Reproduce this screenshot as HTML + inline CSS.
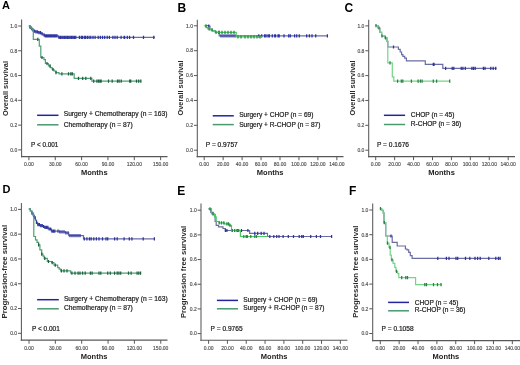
<!DOCTYPE html>
<html><head><meta charset="utf-8"><style>
html,body{margin:0;padding:0;background:#fff;}
svg{display:block;filter:blur(0.35px);}
text{font-family:"Liberation Sans", sans-serif;}
</style></head><body>
<svg width="520" height="365" viewBox="0 0 520 365">
<rect width="520" height="365" fill="#fff"/>
<line x1="21.6" y1="19.6" x2="21.6" y2="157.2" stroke="#585858" stroke-width="1.05"/>
<line x1="21.0" y1="156.6" x2="167.5" y2="156.6" stroke="#585858" stroke-width="1.05"/>
<line x1="18.200000000000003" y1="149.90" x2="21.6" y2="149.90" stroke="#585858" stroke-width="1"/>
<text x="17.30" y="151.70" font-size="5" text-anchor="end" font-weight="normal" fill="#505050" stroke="#505050" stroke-width="0.15" >0.0</text>
<line x1="18.200000000000003" y1="125.12" x2="21.6" y2="125.12" stroke="#585858" stroke-width="1"/>
<text x="17.30" y="126.92" font-size="5" text-anchor="end" font-weight="normal" fill="#505050" stroke="#505050" stroke-width="0.15" >0.2</text>
<line x1="18.200000000000003" y1="100.34" x2="21.6" y2="100.34" stroke="#585858" stroke-width="1"/>
<text x="17.30" y="102.14" font-size="5" text-anchor="end" font-weight="normal" fill="#505050" stroke="#505050" stroke-width="0.15" >0.4</text>
<line x1="18.200000000000003" y1="75.56" x2="21.6" y2="75.56" stroke="#585858" stroke-width="1"/>
<text x="17.30" y="77.36" font-size="5" text-anchor="end" font-weight="normal" fill="#505050" stroke="#505050" stroke-width="0.15" >0.6</text>
<line x1="18.200000000000003" y1="50.78" x2="21.6" y2="50.78" stroke="#585858" stroke-width="1"/>
<text x="17.30" y="52.58" font-size="5" text-anchor="end" font-weight="normal" fill="#505050" stroke="#505050" stroke-width="0.15" >0.8</text>
<line x1="18.200000000000003" y1="26.00" x2="21.6" y2="26.00" stroke="#585858" stroke-width="1"/>
<text x="17.30" y="27.80" font-size="5" text-anchor="end" font-weight="normal" fill="#505050" stroke="#505050" stroke-width="0.15" >1.0</text>
<line x1="28.90" y1="156.6" x2="28.90" y2="160.2" stroke="#585858" stroke-width="1"/>
<text x="28.90" y="166.00" font-size="5" text-anchor="middle" font-weight="normal" fill="#505050" stroke="#505050" stroke-width="0.15" >0.00</text>
<line x1="55.25" y1="156.6" x2="55.25" y2="160.2" stroke="#585858" stroke-width="1"/>
<text x="55.25" y="166.00" font-size="5" text-anchor="middle" font-weight="normal" fill="#505050" stroke="#505050" stroke-width="0.15" >30.00</text>
<line x1="81.60" y1="156.6" x2="81.60" y2="160.2" stroke="#585858" stroke-width="1"/>
<text x="81.60" y="166.00" font-size="5" text-anchor="middle" font-weight="normal" fill="#505050" stroke="#505050" stroke-width="0.15" >60.00</text>
<line x1="107.95" y1="156.6" x2="107.95" y2="160.2" stroke="#585858" stroke-width="1"/>
<text x="107.95" y="166.00" font-size="5" text-anchor="middle" font-weight="normal" fill="#505050" stroke="#505050" stroke-width="0.15" >90.00</text>
<line x1="134.30" y1="156.6" x2="134.30" y2="160.2" stroke="#585858" stroke-width="1"/>
<text x="134.30" y="166.00" font-size="5" text-anchor="middle" font-weight="normal" fill="#505050" stroke="#505050" stroke-width="0.15" >120.00</text>
<line x1="160.65" y1="156.6" x2="160.65" y2="160.2" stroke="#585858" stroke-width="1"/>
<text x="160.65" y="166.00" font-size="5" text-anchor="middle" font-weight="normal" fill="#505050" stroke="#505050" stroke-width="0.15" >150.00</text>
<text x="94.30" y="175.20" font-size="7.5" text-anchor="middle" font-weight="bold" fill="#222" >Months</text>
<text x="0" y="0" font-size="7.5" font-weight="bold" fill="#2a2a2a" text-anchor="middle" transform="translate(7.7,88.5) rotate(-90)" textLength="55" lengthAdjust="spacingAndGlyphs">Overall survival</text>
<text x="2.00" y="9.10" font-size="11" text-anchor="start" font-weight="bold" fill="#000" >A</text>
<line x1="37.1" y1="115.3" x2="58.5" y2="115.3" stroke="#2424a0" stroke-width="1.5"/>
<line x1="37.1" y1="124.8" x2="58.5" y2="124.8" stroke="#4a9a6e" stroke-width="1.5"/>
<text x="63.70" y="116.00" font-size="6.7" text-anchor="start" font-weight="normal" fill="#1a1a1a" stroke="#1a1a1a" stroke-width="0.2" >Surgery + Chemotherapy (n = 163)</text>
<text x="63.70" y="126.60" font-size="6.7" text-anchor="start" font-weight="normal" fill="#1a1a1a" stroke="#1a1a1a" stroke-width="0.2" >Chemotherapy (n = 87)</text>
<text x="31.00" y="147.30" font-size="6.4" text-anchor="start" font-weight="normal" fill="#1a1a1a" stroke="#1a1a1a" stroke-width="0.2" >P &lt; 0.001</text>
<path d="M28.80,25.80 H29.93 V27.12 H31.05 V28.45 H32.17 V29.78 H33.30 V31.10 H35.95 V31.85 H38.60 V32.60 H40.60 V33.70 H42.60 V34.80 H44.60 V35.90 H58.50 V37.40 H155.00" fill="none" stroke="#6a6ca4" stroke-width="1.2"/>
<path d="M30.00,25.52v3.2 M31.50,26.85v3.2 M33.00,28.18v3.2 M34.50,29.50v3.2 M36.00,30.25v3.2 M37.50,30.25v3.2 M39.00,31.00v3.2 M40.50,31.00v3.2 M42.00,32.10v3.2 M44.00,33.20v3.2 M45.30,34.30v3.2 M46.60,34.30v3.2 M47.90,34.30v3.2 M49.20,34.30v3.2 M50.50,34.30v3.2 M51.80,34.30v3.2 M53.10,34.30v3.2 M54.40,34.30v3.2 M55.70,34.30v3.2 M57.00,34.30v3.2 M59.00,35.80v3.2 M60.40,35.80v3.2 M61.80,35.80v3.2 M63.20,35.80v3.2 M64.60,35.80v3.2 M66.00,35.80v3.2 M67.40,35.80v3.2 M68.80,35.80v3.2 M70.20,35.80v3.2 M71.60,35.80v3.2 M73.00,35.80v3.2 M74.40,35.80v3.2 M75.80,35.80v3.2 M79.40,35.80v3.2 M81.30,35.80v3.2 M82.40,35.80v3.2 M84.30,35.80v3.2 M85.60,35.80v3.2 M87.40,35.80v3.2 M89.10,35.80v3.2 M90.80,35.80v3.2 M93.00,35.80v3.2 M95.10,35.80v3.2 M98.20,35.80v3.2 M100.30,35.80v3.2 M102.50,35.80v3.2 M104.70,35.80v3.2 M107.20,35.80v3.2 M109.40,35.80v3.2 M112.90,35.80v3.2 M115.00,35.80v3.2 M117.20,35.80v3.2 M121.10,35.80v3.2 M124.10,35.80v3.2 M124.60,35.80v3.2 M127.30,35.80v3.2 M129.60,35.80v3.2 M133.50,35.80v3.2 M143.50,35.80v3.2 M153.80,35.80v3.2 " stroke="#2c34a0" stroke-width="1.25" fill="none"/>
<path d="M28.80,25.80 H29.93 V27.12 H31.05 V28.45 H32.17 V29.78 H33.30 V31.10 H33.30 V39.40 H39.30 V46.20 H40.80 V57.50 H43.90 V59.70 H45.40 V63.50 H48.40 V65.80 H50.30 V67.60 H52.20 V69.50 H54.00 V71.00 H55.90 V72.60 H59.00 V73.80 H74.20 V78.40 H91.90 V81.20 H141.30" fill="none" stroke="#4f9f76" stroke-width="1.2"/>
<path d="M37.80,37.80v3.2 M42.00,55.90v3.2 M47.00,61.90v3.2 M50.00,64.20v3.2 M53.00,67.90v3.2 M56.00,71.00v3.2 M61.90,72.20v3.2 M68.50,72.20v3.2 M70.80,72.20v3.2 M72.30,72.20v3.2 M78.50,76.80v3.2 M82.70,76.80v3.2 M85.80,76.80v3.2 M90.80,76.80v3.2 M93.70,79.60v3.2 M96.90,79.60v3.2 M98.50,79.60v3.2 M100.00,79.60v3.2 M101.10,79.60v3.2 M108.50,79.60v3.2 M112.20,79.60v3.2 M117.50,79.60v3.2 M119.10,79.60v3.2 M121.20,79.60v3.2 M129.70,79.60v3.2 M130.70,79.60v3.2 M136.50,79.60v3.2 M138.70,79.60v3.2 M140.80,79.60v3.2 " stroke="#1f6040" stroke-width="1.25" fill="none"/>
<line x1="197.3" y1="19.7" x2="197.3" y2="157.2" stroke="#585858" stroke-width="1.05"/>
<line x1="196.70000000000002" y1="156.6" x2="343.5" y2="156.6" stroke="#585858" stroke-width="1.05"/>
<line x1="193.9" y1="150.20" x2="197.3" y2="150.20" stroke="#585858" stroke-width="1"/>
<text x="193.00" y="152.00" font-size="5" text-anchor="end" font-weight="normal" fill="#505050" stroke="#505050" stroke-width="0.15" >0.0</text>
<line x1="193.9" y1="125.32" x2="197.3" y2="125.32" stroke="#585858" stroke-width="1"/>
<text x="193.00" y="127.12" font-size="5" text-anchor="end" font-weight="normal" fill="#505050" stroke="#505050" stroke-width="0.15" >0.2</text>
<line x1="193.9" y1="100.44" x2="197.3" y2="100.44" stroke="#585858" stroke-width="1"/>
<text x="193.00" y="102.24" font-size="5" text-anchor="end" font-weight="normal" fill="#505050" stroke="#505050" stroke-width="0.15" >0.4</text>
<line x1="193.9" y1="75.56" x2="197.3" y2="75.56" stroke="#585858" stroke-width="1"/>
<text x="193.00" y="77.36" font-size="5" text-anchor="end" font-weight="normal" fill="#505050" stroke="#505050" stroke-width="0.15" >0.6</text>
<line x1="193.9" y1="50.68" x2="197.3" y2="50.68" stroke="#585858" stroke-width="1"/>
<text x="193.00" y="52.48" font-size="5" text-anchor="end" font-weight="normal" fill="#505050" stroke="#505050" stroke-width="0.15" >0.8</text>
<line x1="193.9" y1="25.80" x2="197.3" y2="25.80" stroke="#585858" stroke-width="1"/>
<text x="193.00" y="27.60" font-size="5" text-anchor="end" font-weight="normal" fill="#505050" stroke="#505050" stroke-width="0.15" >1.0</text>
<line x1="204.20" y1="156.6" x2="204.20" y2="160.2" stroke="#585858" stroke-width="1"/>
<text x="204.20" y="166.00" font-size="5" text-anchor="middle" font-weight="normal" fill="#505050" stroke="#505050" stroke-width="0.15" >0.00</text>
<line x1="223.15" y1="156.6" x2="223.15" y2="160.2" stroke="#585858" stroke-width="1"/>
<text x="223.15" y="166.00" font-size="5" text-anchor="middle" font-weight="normal" fill="#505050" stroke="#505050" stroke-width="0.15" >20.00</text>
<line x1="242.10" y1="156.6" x2="242.10" y2="160.2" stroke="#585858" stroke-width="1"/>
<text x="242.10" y="166.00" font-size="5" text-anchor="middle" font-weight="normal" fill="#505050" stroke="#505050" stroke-width="0.15" >40.00</text>
<line x1="261.05" y1="156.6" x2="261.05" y2="160.2" stroke="#585858" stroke-width="1"/>
<text x="261.05" y="166.00" font-size="5" text-anchor="middle" font-weight="normal" fill="#505050" stroke="#505050" stroke-width="0.15" >60.00</text>
<line x1="280.00" y1="156.6" x2="280.00" y2="160.2" stroke="#585858" stroke-width="1"/>
<text x="280.00" y="166.00" font-size="5" text-anchor="middle" font-weight="normal" fill="#505050" stroke="#505050" stroke-width="0.15" >80.00</text>
<line x1="298.95" y1="156.6" x2="298.95" y2="160.2" stroke="#585858" stroke-width="1"/>
<text x="298.95" y="166.00" font-size="5" text-anchor="middle" font-weight="normal" fill="#505050" stroke="#505050" stroke-width="0.15" >100.00</text>
<line x1="317.90" y1="156.6" x2="317.90" y2="160.2" stroke="#585858" stroke-width="1"/>
<text x="317.90" y="166.00" font-size="5" text-anchor="middle" font-weight="normal" fill="#505050" stroke="#505050" stroke-width="0.15" >120.00</text>
<line x1="336.85" y1="156.6" x2="336.85" y2="160.2" stroke="#585858" stroke-width="1"/>
<text x="336.85" y="166.00" font-size="5" text-anchor="middle" font-weight="normal" fill="#505050" stroke="#505050" stroke-width="0.15" >140.00</text>
<text x="270.20" y="175.40" font-size="7.5" text-anchor="middle" font-weight="bold" fill="#222" >Months</text>
<text x="0" y="0" font-size="7.5" font-weight="bold" fill="#2a2a2a" text-anchor="middle" transform="translate(182.7,88.0) rotate(-90)" textLength="55" lengthAdjust="spacingAndGlyphs">Overall survival</text>
<text x="177.60" y="12.00" font-size="12" text-anchor="start" font-weight="bold" fill="#000" >B</text>
<line x1="212.7" y1="115.8" x2="233.8" y2="115.8" stroke="#2424a0" stroke-width="1.5"/>
<line x1="212.7" y1="124.6" x2="233.8" y2="124.6" stroke="#4a9a6e" stroke-width="1.5"/>
<text x="239.20" y="117.10" font-size="6.6" text-anchor="start" font-weight="normal" fill="#1a1a1a" stroke="#1a1a1a" stroke-width="0.2" >Surgery + CHOP (n = 69)</text>
<text x="239.20" y="126.50" font-size="6.6" text-anchor="start" font-weight="normal" fill="#1a1a1a" stroke="#1a1a1a" stroke-width="0.2" >Surgery + R-CHOP (n = 87)</text>
<text x="205.80" y="147.00" font-size="6.6" text-anchor="start" font-weight="normal" fill="#1a1a1a" stroke="#1a1a1a" stroke-width="0.2" >P = 0.9757</text>
<path d="M205.00,25.60 H208.80 V26.00 H210.00 V29.60 H212.30 V30.80 H215.40 V32.30 H219.20 V35.80 H327.30" fill="none" stroke="#6a6ca4" stroke-width="1.2"/>
<path d="M208.80,24.40v3.2 M219.00,30.70v3.2 M221.00,34.20v3.2 M223.00,34.20v3.2 M225.00,34.20v3.2 M227.00,34.20v3.2 M229.00,34.20v3.2 M231.00,34.20v3.2 M233.00,34.20v3.2 M235.00,34.20v3.2 M258.80,34.20v3.2 M261.70,34.20v3.2 M264.60,34.20v3.2 M266.00,34.20v3.2 M268.00,34.20v3.2 M269.40,34.20v3.2 M272.30,34.20v3.2 M274.70,34.20v3.2 M278.10,34.20v3.2 M275.50,34.20v3.2 M279.20,34.20v3.2 M284.00,34.20v3.2 M288.70,34.20v3.2 M290.30,34.20v3.2 M294.60,34.20v3.2 M296.70,34.20v3.2 M299.30,34.20v3.2 M306.70,34.20v3.2 M309.40,34.20v3.2 M312.00,34.20v3.2 M315.70,34.20v3.2 M327.40,34.20v3.2 " stroke="#2c34a0" stroke-width="1.25" fill="none"/>
<path d="M204.20,25.80 H206.20 V27.70 H207.70 V28.80 H210.00 V29.60 H212.30 V30.80 H215.40 V32.30 H236.20 V36.80 H262.00" fill="none" stroke="#4cc860" stroke-width="1.2"/>
<path d="M206.00,24.20v3.2 M209.00,27.20v3.2 M212.00,28.00v3.2 M216.00,30.70v3.2 M219.00,30.70v3.2 M222.00,30.70v3.2 M225.00,30.70v3.2 M228.00,30.70v3.2 M231.00,30.70v3.2 M234.00,30.70v3.2 M238.00,35.20v3.2 M241.00,35.20v3.2 M245.00,35.20v3.2 M248.00,35.20v3.2 M251.00,35.20v3.2 M254.00,35.20v3.2 M257.00,35.20v3.2 M260.00,35.20v3.2 " stroke="#2a8a45" stroke-width="1.25" fill="none"/>
<line x1="368.7" y1="19.7" x2="368.7" y2="157.2" stroke="#585858" stroke-width="1.05"/>
<line x1="368.09999999999997" y1="156.6" x2="515" y2="156.6" stroke="#585858" stroke-width="1.05"/>
<line x1="365.3" y1="150.20" x2="368.7" y2="150.20" stroke="#585858" stroke-width="1"/>
<text x="364.40" y="152.00" font-size="5" text-anchor="end" font-weight="normal" fill="#505050" stroke="#505050" stroke-width="0.15" >0.0</text>
<line x1="365.3" y1="125.34" x2="368.7" y2="125.34" stroke="#585858" stroke-width="1"/>
<text x="364.40" y="127.14" font-size="5" text-anchor="end" font-weight="normal" fill="#505050" stroke="#505050" stroke-width="0.15" >0.2</text>
<line x1="365.3" y1="100.48" x2="368.7" y2="100.48" stroke="#585858" stroke-width="1"/>
<text x="364.40" y="102.28" font-size="5" text-anchor="end" font-weight="normal" fill="#505050" stroke="#505050" stroke-width="0.15" >0.4</text>
<line x1="365.3" y1="75.62" x2="368.7" y2="75.62" stroke="#585858" stroke-width="1"/>
<text x="364.40" y="77.42" font-size="5" text-anchor="end" font-weight="normal" fill="#505050" stroke="#505050" stroke-width="0.15" >0.6</text>
<line x1="365.3" y1="50.76" x2="368.7" y2="50.76" stroke="#585858" stroke-width="1"/>
<text x="364.40" y="52.56" font-size="5" text-anchor="end" font-weight="normal" fill="#505050" stroke="#505050" stroke-width="0.15" >0.8</text>
<line x1="365.3" y1="25.90" x2="368.7" y2="25.90" stroke="#585858" stroke-width="1"/>
<text x="364.40" y="27.70" font-size="5" text-anchor="end" font-weight="normal" fill="#505050" stroke="#505050" stroke-width="0.15" >1.0</text>
<line x1="375.70" y1="156.6" x2="375.70" y2="160.2" stroke="#585858" stroke-width="1"/>
<text x="375.70" y="166.00" font-size="5" text-anchor="middle" font-weight="normal" fill="#505050" stroke="#505050" stroke-width="0.15" >0.00</text>
<line x1="394.63" y1="156.6" x2="394.63" y2="160.2" stroke="#585858" stroke-width="1"/>
<text x="394.63" y="166.00" font-size="5" text-anchor="middle" font-weight="normal" fill="#505050" stroke="#505050" stroke-width="0.15" >20.00</text>
<line x1="413.56" y1="156.6" x2="413.56" y2="160.2" stroke="#585858" stroke-width="1"/>
<text x="413.56" y="166.00" font-size="5" text-anchor="middle" font-weight="normal" fill="#505050" stroke="#505050" stroke-width="0.15" >40.00</text>
<line x1="432.49" y1="156.6" x2="432.49" y2="160.2" stroke="#585858" stroke-width="1"/>
<text x="432.49" y="166.00" font-size="5" text-anchor="middle" font-weight="normal" fill="#505050" stroke="#505050" stroke-width="0.15" >60.00</text>
<line x1="451.42" y1="156.6" x2="451.42" y2="160.2" stroke="#585858" stroke-width="1"/>
<text x="451.42" y="166.00" font-size="5" text-anchor="middle" font-weight="normal" fill="#505050" stroke="#505050" stroke-width="0.15" >80.00</text>
<line x1="470.35" y1="156.6" x2="470.35" y2="160.2" stroke="#585858" stroke-width="1"/>
<text x="470.35" y="166.00" font-size="5" text-anchor="middle" font-weight="normal" fill="#505050" stroke="#505050" stroke-width="0.15" >100.00</text>
<line x1="489.28" y1="156.6" x2="489.28" y2="160.2" stroke="#585858" stroke-width="1"/>
<text x="489.28" y="166.00" font-size="5" text-anchor="middle" font-weight="normal" fill="#505050" stroke="#505050" stroke-width="0.15" >120.00</text>
<line x1="508.21" y1="156.6" x2="508.21" y2="160.2" stroke="#585858" stroke-width="1"/>
<text x="508.21" y="166.00" font-size="5" text-anchor="middle" font-weight="normal" fill="#505050" stroke="#505050" stroke-width="0.15" >140.00</text>
<text x="441.50" y="175.00" font-size="7.5" text-anchor="middle" font-weight="bold" fill="#222" >Months</text>
<text x="0" y="0" font-size="7.5" font-weight="bold" fill="#2a2a2a" text-anchor="middle" transform="translate(354.6,88.0) rotate(-90)" textLength="55" lengthAdjust="spacingAndGlyphs">Overall survival</text>
<text x="344.40" y="11.80" font-size="12" text-anchor="start" font-weight="bold" fill="#000" >C</text>
<line x1="383.9" y1="115.3" x2="405.1" y2="115.3" stroke="#2424a0" stroke-width="1.5"/>
<line x1="383.9" y1="124.5" x2="405.1" y2="124.5" stroke="#4a9a6e" stroke-width="1.5"/>
<text x="410.70" y="116.75" font-size="6.6" text-anchor="start" font-weight="normal" fill="#1a1a1a" stroke="#1a1a1a" stroke-width="0.2" >CHOP (n = 45)</text>
<text x="410.70" y="126.40" font-size="6.6" text-anchor="start" font-weight="normal" fill="#1a1a1a" stroke="#1a1a1a" stroke-width="0.2" >R-CHOP (n = 36)</text>
<text x="377.00" y="147.00" font-size="6.6" text-anchor="start" font-weight="normal" fill="#1a1a1a" stroke="#1a1a1a" stroke-width="0.2" >P = 0.1676</text>
<path d="M375.70,25.70 H378.00 V28.00 H379.80 V32.40 H381.60 V36.00 H385.10 V37.80 H386.90 V41.30 H387.80 V47.00 H398.40 V49.30 H400.20 V52.00 H401.60 V54.70 H402.90 V56.40 H404.70 V58.20 H406.40 V60.80 H425.30 V64.30 H442.80 V68.30 H496.50" fill="none" stroke="#6a6ca4" stroke-width="1.2"/>
<path d="M393.50,45.40v3.2 M434.00,62.70v3.2 M433.30,62.70v3.2 M445.60,66.70v3.2 M452.20,66.70v3.2 M453.80,66.70v3.2 M461.20,66.70v3.2 M462.90,66.70v3.2 M465.30,66.70v3.2 M471.90,66.70v3.2 M473.50,66.70v3.2 M475.20,66.70v3.2 M483.40,66.70v3.2 M485.00,66.70v3.2 M490.80,66.70v3.2 M493.20,66.70v3.2 M495.70,66.70v3.2 " stroke="#2c34a0" stroke-width="1.25" fill="none"/>
<path d="M375.70,25.70 H378.00 V28.00 H379.80 V32.40 H381.60 V36.00 H385.10 V37.80 H386.90 V41.30 H387.80 V47.00 H387.80 V62.80 H392.30 V76.90 H393.80 V81.20 H450.00" fill="none" stroke="#74d486" stroke-width="1.2"/>
<path d="M376.00,24.10v3.2 M379.00,26.40v3.2 M382.00,34.40v3.2 M385.50,36.20v3.2 M390.00,61.20v3.2 M397.60,79.60v3.2 M401.30,79.60v3.2 M402.80,79.60v3.2 M411.40,79.60v3.2 M418.10,79.60v3.2 M420.40,79.60v3.2 M422.10,79.60v3.2 M433.30,79.60v3.2 M436.60,79.60v3.2 M449.70,79.60v3.2 " stroke="#2a7e48" stroke-width="1.25" fill="none"/>
<line x1="21.4" y1="203.0" x2="21.4" y2="340.70000000000005" stroke="#585858" stroke-width="1.05"/>
<line x1="20.799999999999997" y1="340.1" x2="167.5" y2="340.1" stroke="#585858" stroke-width="1.05"/>
<line x1="18.0" y1="333.30" x2="21.4" y2="333.30" stroke="#585858" stroke-width="1"/>
<text x="17.10" y="335.10" font-size="5" text-anchor="end" font-weight="normal" fill="#505050" stroke="#505050" stroke-width="0.15" >0.0</text>
<line x1="18.0" y1="308.52" x2="21.4" y2="308.52" stroke="#585858" stroke-width="1"/>
<text x="17.10" y="310.32" font-size="5" text-anchor="end" font-weight="normal" fill="#505050" stroke="#505050" stroke-width="0.15" >0.2</text>
<line x1="18.0" y1="283.74" x2="21.4" y2="283.74" stroke="#585858" stroke-width="1"/>
<text x="17.10" y="285.54" font-size="5" text-anchor="end" font-weight="normal" fill="#505050" stroke="#505050" stroke-width="0.15" >0.4</text>
<line x1="18.0" y1="258.96" x2="21.4" y2="258.96" stroke="#585858" stroke-width="1"/>
<text x="17.10" y="260.76" font-size="5" text-anchor="end" font-weight="normal" fill="#505050" stroke="#505050" stroke-width="0.15" >0.6</text>
<line x1="18.0" y1="234.18" x2="21.4" y2="234.18" stroke="#585858" stroke-width="1"/>
<text x="17.10" y="235.98" font-size="5" text-anchor="end" font-weight="normal" fill="#505050" stroke="#505050" stroke-width="0.15" >0.8</text>
<line x1="18.0" y1="209.40" x2="21.4" y2="209.40" stroke="#585858" stroke-width="1"/>
<text x="17.10" y="211.20" font-size="5" text-anchor="end" font-weight="normal" fill="#505050" stroke="#505050" stroke-width="0.15" >1.0</text>
<line x1="29.00" y1="340.1" x2="29.00" y2="343.70000000000005" stroke="#585858" stroke-width="1"/>
<text x="29.00" y="349.50" font-size="5" text-anchor="middle" font-weight="normal" fill="#505050" stroke="#505050" stroke-width="0.15" >0.00</text>
<line x1="55.35" y1="340.1" x2="55.35" y2="343.70000000000005" stroke="#585858" stroke-width="1"/>
<text x="55.35" y="349.50" font-size="5" text-anchor="middle" font-weight="normal" fill="#505050" stroke="#505050" stroke-width="0.15" >30.00</text>
<line x1="81.70" y1="340.1" x2="81.70" y2="343.70000000000005" stroke="#585858" stroke-width="1"/>
<text x="81.70" y="349.50" font-size="5" text-anchor="middle" font-weight="normal" fill="#505050" stroke="#505050" stroke-width="0.15" >60.00</text>
<line x1="108.05" y1="340.1" x2="108.05" y2="343.70000000000005" stroke="#585858" stroke-width="1"/>
<text x="108.05" y="349.50" font-size="5" text-anchor="middle" font-weight="normal" fill="#505050" stroke="#505050" stroke-width="0.15" >90.00</text>
<line x1="134.40" y1="340.1" x2="134.40" y2="343.70000000000005" stroke="#585858" stroke-width="1"/>
<text x="134.40" y="349.50" font-size="5" text-anchor="middle" font-weight="normal" fill="#505050" stroke="#505050" stroke-width="0.15" >120.00</text>
<line x1="160.75" y1="340.1" x2="160.75" y2="343.70000000000005" stroke="#585858" stroke-width="1"/>
<text x="160.75" y="349.50" font-size="5" text-anchor="middle" font-weight="normal" fill="#505050" stroke="#505050" stroke-width="0.15" >150.00</text>
<text x="94.10" y="358.60" font-size="7.5" text-anchor="middle" font-weight="bold" fill="#222" >Months</text>
<text x="0" y="0" font-size="7.75" font-weight="bold" fill="#2a2a2a" text-anchor="middle" transform="translate(7.1,271.7) rotate(-90)" textLength="93.5" lengthAdjust="spacingAndGlyphs">Progression-free survival</text>
<text x="2.50" y="192.90" font-size="11" text-anchor="start" font-weight="bold" fill="#000" >D</text>
<line x1="37.1" y1="299.7" x2="58.8" y2="299.7" stroke="#2424a0" stroke-width="1.5"/>
<line x1="37.1" y1="308.8" x2="58.8" y2="308.8" stroke="#4a9a6e" stroke-width="1.5"/>
<text x="63.90" y="300.50" font-size="6.7" text-anchor="start" font-weight="normal" fill="#1a1a1a" stroke="#1a1a1a" stroke-width="0.2" >Surgery + Chemotherapy (n = 163)</text>
<text x="63.90" y="310.10" font-size="6.7" text-anchor="start" font-weight="normal" fill="#1a1a1a" stroke="#1a1a1a" stroke-width="0.2" >Chemotherapy (n = 87)</text>
<text x="31.90" y="330.90" font-size="6.5" text-anchor="start" font-weight="normal" fill="#1a1a1a" stroke="#1a1a1a" stroke-width="0.2" >P &lt; 0.001</text>
<path d="M28.80,208.80 H30.27 V211.00 H31.73 V213.20 H33.20 V215.40 H34.30 V217.72 H35.40 V220.05 H36.50 V222.38 H37.60 V224.70 H39.90 V225.70 H42.50 V226.50 H44.90 V227.40 H48.10 V229.00 H51.40 V231.20 H59.60 V231.80 H65.40 V232.80 H68.70 V235.60 H83.50 V238.90 H154.40" fill="none" stroke="#6a6ca4" stroke-width="1.2"/>
<path d="M32.00,211.60v3.2 M33.50,213.80v3.2 M35.00,216.12v3.2 M36.50,220.78v3.2 M38.00,223.10v3.2 M39.40,223.10v3.2 M40.80,224.10v3.2 M42.20,224.10v3.2 M43.60,224.90v3.2 M45.00,225.80v3.2 M46.40,225.80v3.2 M47.80,225.80v3.2 M49.20,227.40v3.2 M50.60,227.40v3.2 M52.00,229.60v3.2 M53.40,229.60v3.2 M54.80,229.60v3.2 M58.00,229.60v3.2 M60.00,230.20v3.2 M62.00,230.20v3.2 M64.00,230.20v3.2 M66.00,231.20v3.2 M68.00,231.20v3.2 M70.00,234.00v3.2 M72.00,234.00v3.2 M74.00,234.00v3.2 M76.00,234.00v3.2 M78.00,234.00v3.2 M80.00,234.00v3.2 M84.30,237.30v3.2 M86.90,237.30v3.2 M89.50,237.30v3.2 M91.20,237.30v3.2 M93.80,237.30v3.2 M96.40,237.30v3.2 M99.00,237.30v3.2 M102.50,237.30v3.2 M106.00,237.30v3.2 M107.70,237.30v3.2 M114.60,237.30v3.2 M117.20,237.30v3.2 M124.10,237.30v3.2 M129.30,237.30v3.2 M131.90,237.30v3.2 M143.20,237.30v3.2 M154.40,237.30v3.2 " stroke="#2c34a0" stroke-width="1.25" fill="none"/>
<path d="M28.80,208.80 H30.37 V211.00 H31.93 V213.20 H33.50 V215.40 H33.80 V236.50 H35.50 V239.90 H37.00 V242.40 H38.60 V244.90 H39.90 V249.80 H41.70 V254.10 H43.00 V256.20 H44.20 V258.40 H47.30 V261.50 H51.60 V262.70 H54.00 V265.20 H57.70 V267.70 H59.20 V269.20 H60.80 V270.80 H70.70 V273.20 H140.90" fill="none" stroke="#4f9f76" stroke-width="1.2"/>
<path d="M38.60,243.30v3.2 M41.70,252.50v3.2 M44.80,256.80v3.2 M48.50,259.90v3.2 M52.20,261.10v3.2 M55.30,263.60v3.2 M61.40,269.20v3.2 M64.00,269.20v3.2 M67.00,269.20v3.2 M71.90,271.60v3.2 M75.00,271.60v3.2 M78.10,271.60v3.2 M80.00,271.60v3.2 M82.60,271.60v3.2 M85.20,271.60v3.2 M90.40,271.60v3.2 M92.10,271.60v3.2 M99.00,271.60v3.2 M100.80,271.60v3.2 M107.70,271.60v3.2 M110.30,271.60v3.2 M114.60,271.60v3.2 M117.20,271.60v3.2 M118.90,271.60v3.2 M120.70,271.60v3.2 M128.50,271.60v3.2 M131.10,271.60v3.2 M137.10,271.60v3.2 M138.80,271.60v3.2 M140.60,271.60v3.2 " stroke="#1f6040" stroke-width="1.25" fill="none"/>
<line x1="201.0" y1="203.4" x2="201.0" y2="340.8" stroke="#585858" stroke-width="1.05"/>
<line x1="200.4" y1="340.2" x2="347.4" y2="340.2" stroke="#585858" stroke-width="1.05"/>
<line x1="197.6" y1="333.60" x2="201.0" y2="333.60" stroke="#585858" stroke-width="1"/>
<text x="196.70" y="335.40" font-size="5" text-anchor="end" font-weight="normal" fill="#505050" stroke="#505050" stroke-width="0.15" >0.0</text>
<line x1="197.6" y1="308.92" x2="201.0" y2="308.92" stroke="#585858" stroke-width="1"/>
<text x="196.70" y="310.72" font-size="5" text-anchor="end" font-weight="normal" fill="#505050" stroke="#505050" stroke-width="0.15" >0.2</text>
<line x1="197.6" y1="284.24" x2="201.0" y2="284.24" stroke="#585858" stroke-width="1"/>
<text x="196.70" y="286.04" font-size="5" text-anchor="end" font-weight="normal" fill="#505050" stroke="#505050" stroke-width="0.15" >0.4</text>
<line x1="197.6" y1="259.56" x2="201.0" y2="259.56" stroke="#585858" stroke-width="1"/>
<text x="196.70" y="261.36" font-size="5" text-anchor="end" font-weight="normal" fill="#505050" stroke="#505050" stroke-width="0.15" >0.6</text>
<line x1="197.6" y1="234.88" x2="201.0" y2="234.88" stroke="#585858" stroke-width="1"/>
<text x="196.70" y="236.68" font-size="5" text-anchor="end" font-weight="normal" fill="#505050" stroke="#505050" stroke-width="0.15" >0.8</text>
<line x1="197.6" y1="210.20" x2="201.0" y2="210.20" stroke="#585858" stroke-width="1"/>
<text x="196.70" y="212.00" font-size="5" text-anchor="end" font-weight="normal" fill="#505050" stroke="#505050" stroke-width="0.15" >1.0</text>
<line x1="208.60" y1="340.2" x2="208.60" y2="343.8" stroke="#585858" stroke-width="1"/>
<text x="208.60" y="349.60" font-size="5" text-anchor="middle" font-weight="normal" fill="#505050" stroke="#505050" stroke-width="0.15" >0.00</text>
<line x1="227.42" y1="340.2" x2="227.42" y2="343.8" stroke="#585858" stroke-width="1"/>
<text x="227.42" y="349.60" font-size="5" text-anchor="middle" font-weight="normal" fill="#505050" stroke="#505050" stroke-width="0.15" >20.00</text>
<line x1="246.24" y1="340.2" x2="246.24" y2="343.8" stroke="#585858" stroke-width="1"/>
<text x="246.24" y="349.60" font-size="5" text-anchor="middle" font-weight="normal" fill="#505050" stroke="#505050" stroke-width="0.15" >40.00</text>
<line x1="265.06" y1="340.2" x2="265.06" y2="343.8" stroke="#585858" stroke-width="1"/>
<text x="265.06" y="349.60" font-size="5" text-anchor="middle" font-weight="normal" fill="#505050" stroke="#505050" stroke-width="0.15" >60.00</text>
<line x1="283.88" y1="340.2" x2="283.88" y2="343.8" stroke="#585858" stroke-width="1"/>
<text x="283.88" y="349.60" font-size="5" text-anchor="middle" font-weight="normal" fill="#505050" stroke="#505050" stroke-width="0.15" >80.00</text>
<line x1="302.70" y1="340.2" x2="302.70" y2="343.8" stroke="#585858" stroke-width="1"/>
<text x="302.70" y="349.60" font-size="5" text-anchor="middle" font-weight="normal" fill="#505050" stroke="#505050" stroke-width="0.15" >100.00</text>
<line x1="321.52" y1="340.2" x2="321.52" y2="343.8" stroke="#585858" stroke-width="1"/>
<text x="321.52" y="349.60" font-size="5" text-anchor="middle" font-weight="normal" fill="#505050" stroke="#505050" stroke-width="0.15" >120.00</text>
<line x1="340.34" y1="340.2" x2="340.34" y2="343.8" stroke="#585858" stroke-width="1"/>
<text x="340.34" y="349.60" font-size="5" text-anchor="middle" font-weight="normal" fill="#505050" stroke="#505050" stroke-width="0.15" >140.00</text>
<text x="274.20" y="358.80" font-size="7.5" text-anchor="middle" font-weight="bold" fill="#222" >Months</text>
<text x="0" y="0" font-size="7.65" font-weight="bold" fill="#2a2a2a" text-anchor="middle" transform="translate(186.1,272.0) rotate(-90)" textLength="92.2" lengthAdjust="spacingAndGlyphs">Progression free survival</text>
<text x="177.20" y="195.00" font-size="12" text-anchor="start" font-weight="bold" fill="#000" >E</text>
<line x1="216.9" y1="300.4" x2="238.0" y2="300.4" stroke="#2424a0" stroke-width="1.5"/>
<line x1="216.9" y1="308.8" x2="238.0" y2="308.8" stroke="#4a9a6e" stroke-width="1.5"/>
<text x="243.30" y="301.80" font-size="6.6" text-anchor="start" font-weight="normal" fill="#1a1a1a" stroke="#1a1a1a" stroke-width="0.2" >Surgery + CHOP (n = 69)</text>
<text x="243.30" y="310.35" font-size="6.6" text-anchor="start" font-weight="normal" fill="#1a1a1a" stroke="#1a1a1a" stroke-width="0.2" >Surgery + R-CHOP (n = 87)</text>
<text x="210.60" y="330.70" font-size="6.6" text-anchor="start" font-weight="normal" fill="#1a1a1a" stroke="#1a1a1a" stroke-width="0.2" >P = 0.9765</text>
<path d="M208.50,208.90 H210.80 V212.30 H213.10 V214.60 H215.10 V221.50 H216.20 V225.40 H218.50 V226.90 H223.00 V228.50 H225.40 V230.50 H249.60 V233.30 H267.50 V236.50 H331.90" fill="none" stroke="#6a6ca4" stroke-width="1.2"/>
<path d="M225.40,228.90v3.2 M226.90,228.90v3.2 M232.30,228.90v3.2 M234.60,228.90v3.2 M237.70,228.90v3.2 M241.50,228.90v3.2 M247.90,228.90v3.2 M254.80,231.70v3.2 M257.70,231.70v3.2 M261.20,231.70v3.2 M264.00,231.70v3.2 M269.80,234.90v3.2 M273.80,234.90v3.2 M276.70,234.90v3.2 M279.00,234.90v3.2 M283.10,234.90v3.2 M288.30,234.90v3.2 M293.50,234.90v3.2 M299.20,234.90v3.2 M301.70,234.90v3.2 M303.30,234.90v3.2 M310.70,234.90v3.2 M316.40,234.90v3.2 M320.50,234.90v3.2 M331.60,234.90v3.2 " stroke="#2c34a0" stroke-width="1.25" fill="none"/>
<path d="M208.50,208.90 H211.50 V213.80 H214.60 V216.90 H216.20 V221.50 H219.20 V222.80 H224.60 V223.80 H229.20 V225.40 H231.50 V230.50 H240.40 V236.50 H267.50" fill="none" stroke="#4cc860" stroke-width="1.2"/>
<path d="M210.00,207.30v3.2 M213.00,212.20v3.2 M219.20,221.20v3.2 M221.50,221.20v3.2 M223.80,221.20v3.2 M226.90,222.20v3.2 M228.50,222.20v3.2 M230.00,223.80v3.2 M232.30,228.90v3.2 M234.60,228.90v3.2 M236.90,228.90v3.2 M238.70,228.90v3.2 M243.80,234.90v3.2 M246.20,234.90v3.2 M247.30,234.90v3.2 M250.80,234.90v3.2 M254.80,234.90v3.2 M256.50,234.90v3.2 " stroke="#2a8a45" stroke-width="1.25" fill="none"/>
<line x1="372.7" y1="203.4" x2="372.7" y2="341.20000000000005" stroke="#585858" stroke-width="1.05"/>
<line x1="372.09999999999997" y1="340.6" x2="520" y2="340.6" stroke="#585858" stroke-width="1.05"/>
<line x1="369.3" y1="333.50" x2="372.7" y2="333.50" stroke="#585858" stroke-width="1"/>
<text x="368.40" y="335.30" font-size="5" text-anchor="end" font-weight="normal" fill="#505050" stroke="#505050" stroke-width="0.15" >0.0</text>
<line x1="369.3" y1="308.80" x2="372.7" y2="308.80" stroke="#585858" stroke-width="1"/>
<text x="368.40" y="310.60" font-size="5" text-anchor="end" font-weight="normal" fill="#505050" stroke="#505050" stroke-width="0.15" >0.2</text>
<line x1="369.3" y1="284.10" x2="372.7" y2="284.10" stroke="#585858" stroke-width="1"/>
<text x="368.40" y="285.90" font-size="5" text-anchor="end" font-weight="normal" fill="#505050" stroke="#505050" stroke-width="0.15" >0.4</text>
<line x1="369.3" y1="259.40" x2="372.7" y2="259.40" stroke="#585858" stroke-width="1"/>
<text x="368.40" y="261.20" font-size="5" text-anchor="end" font-weight="normal" fill="#505050" stroke="#505050" stroke-width="0.15" >0.6</text>
<line x1="369.3" y1="234.70" x2="372.7" y2="234.70" stroke="#585858" stroke-width="1"/>
<text x="368.40" y="236.50" font-size="5" text-anchor="end" font-weight="normal" fill="#505050" stroke="#505050" stroke-width="0.15" >0.8</text>
<line x1="369.3" y1="210.00" x2="372.7" y2="210.00" stroke="#585858" stroke-width="1"/>
<text x="368.40" y="211.80" font-size="5" text-anchor="end" font-weight="normal" fill="#505050" stroke="#505050" stroke-width="0.15" >1.0</text>
<line x1="380.30" y1="340.6" x2="380.30" y2="344.20000000000005" stroke="#585858" stroke-width="1"/>
<text x="380.30" y="350.00" font-size="5" text-anchor="middle" font-weight="normal" fill="#505050" stroke="#505050" stroke-width="0.15" >0.00</text>
<line x1="399.16" y1="340.6" x2="399.16" y2="344.20000000000005" stroke="#585858" stroke-width="1"/>
<text x="399.16" y="350.00" font-size="5" text-anchor="middle" font-weight="normal" fill="#505050" stroke="#505050" stroke-width="0.15" >20.00</text>
<line x1="418.02" y1="340.6" x2="418.02" y2="344.20000000000005" stroke="#585858" stroke-width="1"/>
<text x="418.02" y="350.00" font-size="5" text-anchor="middle" font-weight="normal" fill="#505050" stroke="#505050" stroke-width="0.15" >40.00</text>
<line x1="436.88" y1="340.6" x2="436.88" y2="344.20000000000005" stroke="#585858" stroke-width="1"/>
<text x="436.88" y="350.00" font-size="5" text-anchor="middle" font-weight="normal" fill="#505050" stroke="#505050" stroke-width="0.15" >60.00</text>
<line x1="455.74" y1="340.6" x2="455.74" y2="344.20000000000005" stroke="#585858" stroke-width="1"/>
<text x="455.74" y="350.00" font-size="5" text-anchor="middle" font-weight="normal" fill="#505050" stroke="#505050" stroke-width="0.15" >80.00</text>
<line x1="474.60" y1="340.6" x2="474.60" y2="344.20000000000005" stroke="#585858" stroke-width="1"/>
<text x="474.60" y="350.00" font-size="5" text-anchor="middle" font-weight="normal" fill="#505050" stroke="#505050" stroke-width="0.15" >100.00</text>
<line x1="493.46" y1="340.6" x2="493.46" y2="344.20000000000005" stroke="#585858" stroke-width="1"/>
<text x="493.46" y="350.00" font-size="5" text-anchor="middle" font-weight="normal" fill="#505050" stroke="#505050" stroke-width="0.15" >120.00</text>
<line x1="512.32" y1="340.6" x2="512.32" y2="344.20000000000005" stroke="#585858" stroke-width="1"/>
<text x="512.32" y="350.00" font-size="5" text-anchor="middle" font-weight="normal" fill="#505050" stroke="#505050" stroke-width="0.15" >140.00</text>
<text x="445.90" y="358.80" font-size="7.5" text-anchor="middle" font-weight="bold" fill="#222" >Months</text>
<text x="0" y="0" font-size="7.65" font-weight="bold" fill="#2a2a2a" text-anchor="middle" transform="translate(357.8,271.7) rotate(-90)" textLength="92.2" lengthAdjust="spacingAndGlyphs">Progression free survival</text>
<text x="349.00" y="195.00" font-size="12" text-anchor="start" font-weight="bold" fill="#000" >F</text>
<line x1="388.1" y1="302.4" x2="409.0" y2="302.4" stroke="#2424a0" stroke-width="1.5"/>
<line x1="388.1" y1="310.8" x2="409.0" y2="310.8" stroke="#4a9a6e" stroke-width="1.5"/>
<text x="414.80" y="304.60" font-size="6.6" text-anchor="start" font-weight="normal" fill="#1a1a1a" stroke="#1a1a1a" stroke-width="0.2" >CHOP (n = 45)</text>
<text x="414.80" y="312.40" font-size="6.6" text-anchor="start" font-weight="normal" fill="#1a1a1a" stroke="#1a1a1a" stroke-width="0.2" >R-CHOP (n = 36)</text>
<text x="381.60" y="331.10" font-size="6.6" text-anchor="start" font-weight="normal" fill="#1a1a1a" stroke="#1a1a1a" stroke-width="0.2" >P = 0.1058</text>
<path d="M379.90,208.70 H381.60 V210.40 H383.20 V212.90 H384.00 V222.70 H385.70 V236.00 H392.20 V242.40 H397.20 V246.00 H405.40 V249.00 H407.00 V249.80 H408.70 V252.30 H410.30 V255.60 H412.10 V258.30 H500.40" fill="none" stroke="#6a6ca4" stroke-width="1.2"/>
<path d="M391.00,234.40v3.2 M437.80,256.70v3.2 M446.40,256.70v3.2 M449.00,256.70v3.2 M456.00,256.70v3.2 M457.70,256.70v3.2 M465.50,256.70v3.2 M469.80,256.70v3.2 M475.00,256.70v3.2 M477.60,256.70v3.2 M480.20,256.70v3.2 M488.80,256.70v3.2 M495.80,256.70v3.2 M498.40,256.70v3.2 M500.10,256.70v3.2 " stroke="#2c34a0" stroke-width="1.25" fill="none"/>
<path d="M379.90,208.70 H381.60 V210.40 H383.20 V212.90 H384.00 V222.70 H385.70 V236.00 H387.30 V243.20 H389.00 V247.30 H390.20 V255.20 H391.30 V259.80 H393.10 V263.30 H394.80 V267.30 H396.00 V271.30 H397.70 V273.70 H398.80 V277.70 H415.60 V284.60 H441.50" fill="none" stroke="#74d486" stroke-width="1.2"/>
<path d="M380.50,207.10v3.2 M384.30,221.10v3.2 M387.50,241.60v3.2 M390.00,245.70v3.2 M392.00,258.20v3.2 M396.50,269.70v3.2 M401.70,276.10v3.2 M405.80,276.10v3.2 M407.50,276.10v3.2 M424.80,283.00v3.2 M426.50,283.00v3.2 M433.50,283.00v3.2 M437.50,283.00v3.2 M441.00,283.00v3.2 " stroke="#2a7e48" stroke-width="1.25" fill="none"/>
</svg>
</body></html>
